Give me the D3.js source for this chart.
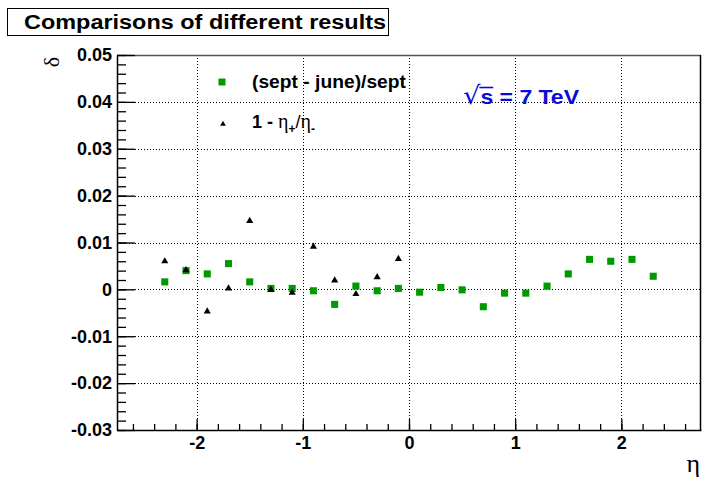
<!DOCTYPE html>
<html>
<head>
<meta charset="utf-8">
<script src="https://cdn.jsdelivr.net/npm/d3@7"></script>
<style>
	body { margin: 0; background: #fff; }
	svg { display: block; }
	.tick text { font-family: "Liberation Sans", Arial, sans-serif; font-weight: bold; font-size: 18px; fill: #000; }
	.grid line { stroke: #000; stroke-width: 1px; stroke-dasharray: 1,2; }
</style>
</head>
<body>
<div id="chart"></div>
<script>
// eta bin centres
const eta_sept = [-2.3, -2.1, -1.9, -1.7, -1.5, -1.3, -1.1, -0.9, -0.7, -0.5, -0.3, -0.1,
	0.1, 0.3, 0.5, 0.7, 0.9, 1.1, 1.3, 1.5, 1.7, 1.9, 2.1, 2.3];
// (sept - june)/sept
const delta_sept = [0.0016, 0.0040, 0.0033, 0.0055, 0.0016, 0.0002, 0.0002, -0.0003, -0.0032, 0.0007, -0.0003, 0.0002,
	-0.0006, 0.0004, -0.0001, -0.0037, -0.0008, -0.0008, 0.0007, 0.0033, 0.0064, 0.0060, 0.0064, 0.0028];
const eta_ratio = [-2.3, -2.1, -1.9, -1.7, -1.5, -1.3, -1.1, -0.9, -0.7, -0.5, -0.3, -0.1];
// 1 - eta+/eta-
const delta_ratio = [0.0060, 0.0041, -0.0047, 0.0002, 0.0146, -0.0001, -0.0007, 0.0091, 0.0019, -0.0010, 0.0026, 0.0065];

const x_ticks = [-2, -1, 0, 1, 2];
const x_tick_labels = ["-2", "-1", "0", "1", "2"];
const y_ticks = [-0.03, -0.02, -0.01, 0, 0.01, 0.02, 0.03, 0.04, 0.05];
const y_tick_labels = ["-0.03", "-0.02", "-0.01", "0", "0.01", "0.02", "0.03", "0.04", "0.05"];

const width = 702, height = 486;
const plot_left = 117, plot_right = 701, plot_top = 55, plot_bottom = 430;
const green = "#009900", blue = "#0a0ad8";
const font = '"Liberation Sans", Arial, sans-serif';
const serif = '"Liberation Serif", "DejaVu Serif", serif';

const svg = d3.select("#chart").append("svg")
	.attr("width", width)
	.attr("height", height);

const x = d3.scaleLinear().domain([-2.75, 2.75]).range([plot_left, plot_right]);
const y = d3.scaleLinear().domain([-0.03, 0.05]).range([plot_bottom, plot_top]);

// dotted grid
const grid = svg.append("g").attr("class", "grid");
grid.selectAll("line.vx")
	.data(x_ticks)
	.enter().append("line")
	.attr("x1", d => Math.round(x(d)) + 0.5).attr("x2", d => Math.round(x(d)) + 0.5)
	.attr("y1", plot_top).attr("y2", plot_bottom);
grid.selectAll("line.hy")
	.data(y_ticks.slice(1, -1))
	.enter().append("line")
	.attr("x1", plot_left).attr("x2", plot_right)
	.attr("y1", d => Math.round(y(d)) + 0.5).attr("y2", d => Math.round(y(d)) + 0.5);

// frame top / right
svg.append("line").attr("x1", plot_left).attr("x2", plot_right).attr("y1", plot_top + 0.5).attr("y2", plot_top + 0.5)
	.attr("stroke", "#555").attr("stroke-width", 1.5);
svg.append("line").attr("x1", plot_right - 0.5).attr("x2", plot_right - 0.5).attr("y1", plot_top).attr("y2", plot_bottom)
	.attr("stroke", "#000").attr("stroke-width", 1.5);

// y axis, ticks pointing inside
svg.append("g")
	.attr("transform", `translate(${plot_left},0)`)
	.call(d3.axisLeft(y).tickValues(d3.range(-0.03, 0.0501, 0.002)).tickSize(-9).tickFormat(""))
	.call(g => g.select(".domain").remove())
	.selectAll("line").attr("stroke-width", 1.3);
const y_axis = svg.append("g")
	.attr("transform", `translate(${plot_left},0)`)
	.call(d3.axisLeft(y).tickValues(y_ticks).tickSize(-18).tickSizeOuter(0).tickPadding(5)
		.tickFormat((d, i) => y_tick_labels[i]));
y_axis.selectAll("line").attr("stroke-width", 1.3);
y_axis.select(".domain").attr("stroke-width", 1.5);

// x axis
svg.append("g")
	.attr("transform", `translate(0,${plot_bottom})`)
	.call(d3.axisBottom(x).tickValues(d3.range(-2.6, 2.75, 0.2)).tickSize(-6).tickFormat(""))
	.call(g => g.select(".domain").remove())
	.selectAll("line").attr("stroke-width", 1.3);
const x_axis = svg.append("g")
	.attr("transform", `translate(0,${plot_bottom})`)
	.call(d3.axisBottom(x).tickValues(x_ticks).tickSize(-11).tickSizeOuter(0).tickPadding(6)
		.tickFormat((d, i) => x_tick_labels[i]));
x_axis.selectAll("line").attr("stroke-width", 1.3);
x_axis.select(".domain").attr("stroke-width", 1.5);

// markers
const square = d3.symbol().type(d3.symbolSquare).size(50);
const triangle = d3.symbol().type(d3.symbolTriangle).size(22);

svg.append("g").selectAll("path")
	.data(eta_sept.map((e, i) => [e, delta_sept[i]]))
	.enter().append("path")
	.attr("d", square)
	.attr("fill", green)
	.attr("transform", d => `translate(${x(d[0])},${y(d[1])})`);

svg.append("g").selectAll("path")
	.data(eta_ratio.map((e, i) => [e, delta_ratio[i]]))
	.enter().append("path")
	.attr("d", triangle)
	.attr("fill", "#000")
	.attr("transform", d => `translate(${x(d[0])},${y(d[1])})`);

// legend
svg.append("path").attr("d", d3.symbol().type(d3.symbolSquare).size(49))
	.attr("fill", green).attr("transform", "translate(222,82)");
svg.append("path").attr("d", d3.symbol().type(d3.symbolTriangle).size(14))
	.attr("fill", "#000").attr("transform", "translate(223,124)");

svg.append("text")
	.attr("x", 252).attr("y", 88)
	.attr("font-family", font).attr("font-weight", "bold").attr("font-size", 18)
	.attr("textLength", 154).attr("lengthAdjust", "spacingAndGlyphs")
	.text("(sept - june)/sept");

const leg2 = svg.append("text")
	.attr("x", 252).attr("y", 128)
	.attr("font-family", font).attr("font-weight", "bold").attr("font-size", 18);
leg2.append("tspan").text("1 - ");
leg2.append("tspan").attr("font-family", serif).attr("font-weight", "normal").attr("font-size", 20).text("η");
leg2.append("tspan").attr("font-size", 12).attr("dy", 5).text("+");
leg2.append("tspan").attr("dy", -5).attr("font-weight", "normal").text("/");
leg2.append("tspan").attr("font-family", serif).attr("font-weight", "normal").attr("font-size", 20).text("η");
leg2.append("tspan").attr("font-size", 12).attr("dy", 5).text("-");

// sqrt(s) label
const energy = svg.append("text")
	.attr("x", 463).attr("y", 104)
	.attr("font-family", font).attr("font-weight", "bold").attr("font-size", 21)
	.attr("textLength", 116).attr("lengthAdjust", "spacingAndGlyphs")
	.attr("fill", blue);
energy.append("tspan").attr("font-weight", "normal").attr("font-size", 25)
	.attr("font-family", '"DejaVu Sans", sans-serif').text("√");
energy.append("tspan").text("s = 7 TeV");
const s_box = energy.node().getExtentOfChar(1);
svg.append("line")
	.attr("x1", s_box.x - 1).attr("x2", s_box.x + s_box.width)
	.attr("y1", s_box.y + 2.5).attr("y2", s_box.y + 2.5)
	.attr("stroke", blue).attr("stroke-width", 1.6);

// axis titles
svg.append("text")
	.attr("transform", "translate(59,62) rotate(-90)")
	.attr("text-anchor", "middle")
	.attr("font-family", serif).attr("font-size", 22)
	.text("δ");
svg.append("text")
	.attr("x", 700).attr("y", 472)
	.attr("text-anchor", "end")
	.attr("font-family", serif).attr("font-size", 26)
	.text("η");

// title box
svg.append("rect")
	.attr("x", 7.5).attr("y", 8.5).attr("width", 381).attr("height", 27)
	.attr("fill", "#fff").attr("stroke", "#000").attr("stroke-width", 1);
svg.append("text")
	.attr("x", 24).attr("y", 29)
	.attr("font-family", font).attr("font-weight", "bold").attr("font-size", 20)
	.attr("textLength", 362).attr("lengthAdjust", "spacingAndGlyphs")
	.text("Comparisons of different results");
</script>
</body>
</html>
